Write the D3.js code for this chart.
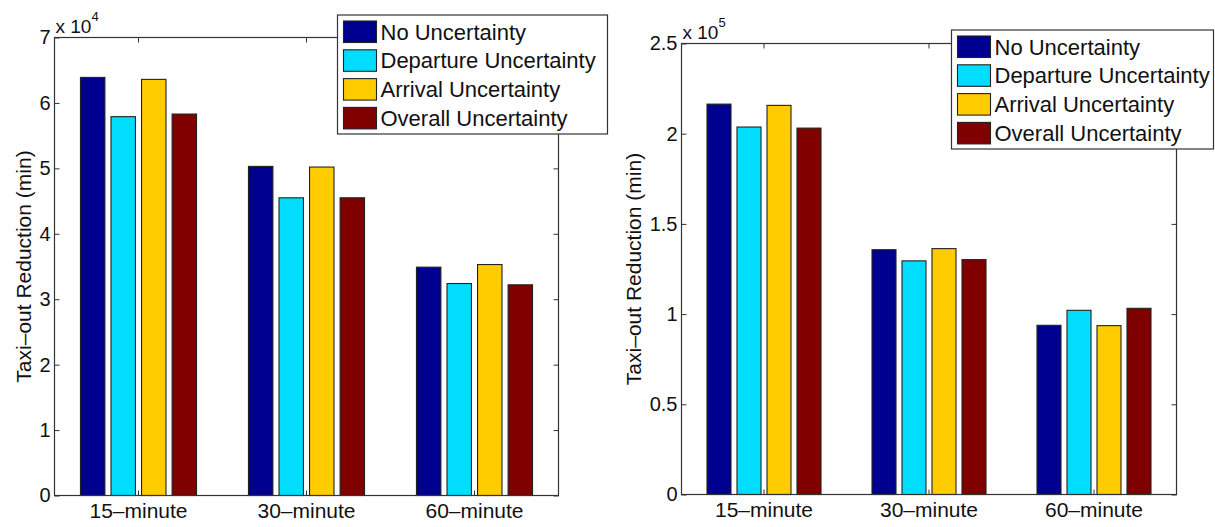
<!DOCTYPE html>
<html>
<head>
<meta charset="utf-8">
<script src="https://cdn.jsdelivr.net/npm/d3@7"></script>
<style>
  body { margin: 0; background: #fff; }
  svg { display: block; font-family: "Liberation Sans", Arial, Helvetica, sans-serif; }
</style>
</head>
<body>
<svg width="1215" height="527"></svg>
<script>
// categories and series
var categories = ["15\u2013minute", "30\u2013minute", "60\u2013minute"];
var seriesNames = ["No Uncertainty", "Departure Uncertainty", "Arrival Uncertainty", "Overall Uncertainty"];
var seriesColors = ["#000090", "#00ddff", "#ffcc00", "#800000"];

// left panel values (min)
var leftNo = [63900, 50300, 34900];
var leftDep = [57900, 45500, 32400];
var leftArr = [63600, 50200, 35300];
var leftAll = [58300, 45500, 32200];
var leftTicks = [0, 10000, 20000, 30000, 40000, 50000, 60000, 70000];
var leftExp = 4;

// right panel values (min)
var rightNo = [216400, 135700, 93800];
var rightDep = [203700, 129500, 102100];
var rightArr = [215700, 136300, 93600];
var rightAll = [203100, 130200, 103200];
var rightTicks = [0, 50000, 100000, 150000, 200000, 250000];
var rightExp = 5;

var svg = d3.select("svg");
var ink = "#333";

function drawPanel(p) {
    var g = svg.append("g");

    var x0 = d3.scaleBand()
        .domain(categories)
        .range([p.left, p.right])
        .padding(0);

    // matlab grouped bar: group width = n/(n+1.5) of the slot
    var groupW = x0.bandwidth() * seriesNames.length / (seriesNames.length + 1.5);
    var x1 = d3.scaleBand()
        .domain(seriesNames)
        .range([-groupW / 2, groupW / 2])
        .paddingInner(0.2)
        .paddingOuter(0.1);

    var y = d3.scaleLinear()
        .domain([0, d3.max(p.ticks)])
        .range([p.bottom, p.top]);

    var rows = p.series.map(function (vals, i) {
        return vals.map(function (v, j) {
            return { name: seriesNames[i], color: seriesColors[i], cat: categories[j], value: v };
        });
    });

    g.selectAll("g.series")
        .data(rows)
        .enter().append("g")
        .attr("class", "series")
        .selectAll("rect")
        .data(function (d) { return d; })
        .enter().append("rect")
        .attr("x", function (d) { return x0(d.cat) + x0.bandwidth() / 2 + x1(d.name); })
        .attr("width", x1.bandwidth())
        .attr("y", function (d) { return y(d.value); })
        .attr("height", function (d) { return y(0) - y(d.value); })
        .attr("fill", function (d) { return d.color; })
        .attr("stroke", "#222")
        .attr("stroke-width", 1.1);

    var fmt = function (d) { return String(+(d / Math.pow(10, p.exp)).toFixed(2)); };

    // axes, ticks point inward like matlab
    var yl = g.append("g")
        .attr("transform", "translate(" + p.left + ",0)")
        .call(d3.axisLeft(y).tickValues(p.ticks).tickFormat(fmt).tickSizeInner(-5).tickSizeOuter(0).tickPadding(4));
    var yr = g.append("g")
        .attr("transform", "translate(" + p.right + ",0)")
        .call(d3.axisRight(y).tickValues(p.ticks).tickFormat("").tickSizeInner(-5).tickSizeOuter(0));
    var xb = g.append("g")
        .attr("transform", "translate(0," + p.bottom + ")")
        .call(d3.axisBottom(x0).tickSizeInner(-5).tickSizeOuter(0).tickPadding(8));
    var xt = g.append("g")
        .attr("transform", "translate(0," + p.top + ")")
        .call(d3.axisTop(x0).tickFormat("").tickSizeInner(-5).tickSizeOuter(0));

    [yl, yr, xb, xt].forEach(function (a) {
        a.select(".domain").remove();
        a.selectAll("line").attr("stroke", ink);
        a.selectAll("text").attr("fill", "#111").style("font-size", "20px").style("font-family", null);
    });
    xb.selectAll("text").style("font-size", "21px");

    g.append("rect")
        .attr("x", p.left).attr("y", p.top)
        .attr("width", p.right - p.left).attr("height", p.bottom - p.top)
        .attr("fill", "none").attr("stroke", ink).attr("stroke-width", 1.2);

    // exponent label
    var ex = g.append("text")
        .attr("x", p.left + 1).attr("y", p.top - 5)
        .attr("fill", "#111").style("font-size", "19px")
        .text("x 10");
    ex.append("tspan")
        .attr("dy", -12).style("font-size", "13px")
        .text(p.exp);

    g.append("text")
        .attr("transform", "translate(" + p.ylabX + "," + ((p.top + p.bottom) / 2) + ") rotate(-90)")
        .attr("text-anchor", "middle")
        .attr("fill", "#111").style("font-size", "21px")
        .text("Taxi\u2013out Reduction (min)");

    // legend
    var L = p.legend;
    var lg = g.append("g").attr("transform", "translate(" + L.x + "," + L.y + ")");
    lg.append("rect")
        .attr("width", L.w).attr("height", 119)
        .attr("fill", "#fff").attr("stroke", ink).attr("stroke-width", 1.2);
    var item = lg.selectAll("g.item")
        .data(seriesNames)
        .enter().append("g")
        .attr("class", "item")
        .attr("transform", function (d, i) { return "translate(6," + (6 + i * 28.8) + ")"; });
    item.append("rect")
        .attr("width", 33).attr("height", 21.5)
        .attr("fill", function (d, i) { return seriesColors[i]; })
        .attr("stroke", "#222").attr("stroke-width", 1.1);
    item.append("text")
        .attr("x", 37).attr("y", 18.5)
        .attr("fill", "#111").style("font-size", "22px")
        .text(function (d) { return d; });
}

drawPanel({
    left: 54.5, right: 558.5, top: 37.5, bottom: 495.5,
    series: [leftNo, leftDep, leftArr, leftAll],
    ticks: leftTicks, exp: leftExp, ylabX: 31,
    legend: { x: 337.5, y: 15, w: 270 }
});

drawPanel({
    left: 681.5, right: 1176.5, top: 43.5, bottom: 494.5,
    series: [rightNo, rightDep, rightArr, rightAll],
    ticks: rightTicks, exp: rightExp, ylabX: 641,
    legend: { x: 951.5, y: 30, w: 262 }
});
</script>
</body>
</html>
